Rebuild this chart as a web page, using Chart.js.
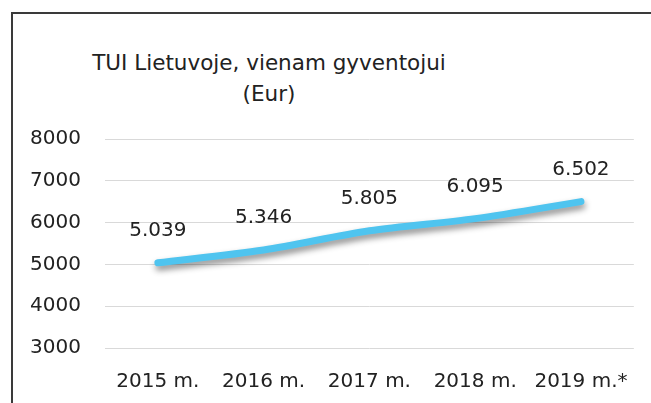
<!DOCTYPE html>
<html>
<head>
<meta charset="utf-8">
<script src="https://cdn.jsdelivr.net/npm/chart.js@4.4.1/dist/chart.umd.min.js"></script>
<style>
  html, body { margin: 0; padding: 0; background: #fff; overflow: hidden; }
  #wrap { position: relative; width: 651px; height: 403px; }
  #frame {
    position: absolute; left: 11px; top: 12px; width: 700px; height: 500px;
    border-left: 2px solid #3a3a3a; border-top: 2px solid #3a3a3a;
  }
  #title {
    position: absolute; left: 0; top: 47px; width: 538px; text-align: center;
    font-family: "DejaVu Sans", sans-serif; font-size: 21.5px; line-height: 31px; color: #222;
  }
  #myChart { position: absolute; left: 0; top: 0; }
</style>
</head>
<body>
<div id="wrap">
  <div id="frame"></div>
  <div id="title">TUI Lietuvoje, vienam gyventojui<br>(Eur)</div>
  <canvas id="myChart" width="651" height="403"></canvas>
</div>
<script>
const years = ['2015 m.', '2016 m.', '2017 m.', '2018 m.', '2019 m.*'];
const tuiPerPerson = [5039, 5346, 5805, 6095, 6502];
const yTicks = [3000, 4000, 5000, 6000, 7000, 8000];

const fontFamily = '"DejaVu Sans", sans-serif';

// value labels above the line, lithuanian style 5.039
const valueLabels = {
    id: 'valueLabels',
    afterDatasetsDraw(chart) {
        const ctx = chart.ctx;
        const meta = chart.getDatasetMeta(0);
        ctx.save();
        ctx.font = '20px ' + fontFamily;
        ctx.fillStyle = '#222';
        ctx.textAlign = 'center';
        ctx.textBaseline = 'middle';
        meta.data.forEach((pt, i) => {
            const v = tuiPerPerson[i].toString();
            const txt = v.slice(0, -3) + '.' + v.slice(-3);
            ctx.fillText(txt, pt.x, pt.y - 32);
        });
        ctx.restore();
    }
};

const lineShadow = {
    id: 'lineShadow',
    beforeDatasetsDraw(chart) {
        const ctx = chart.ctx;
        ctx.save();
        ctx.shadowColor = 'rgba(0,0,0,0.45)';
        ctx.shadowBlur = 6;
        ctx.shadowOffsetY = 4;
        ctx.shadowOffsetX = 1;
    },
    afterDatasetsDraw(chart) {
        chart.ctx.restore();
    }
};

var config = {
    type: 'line',
    data: {
        labels: years,
        datasets: [{
            data: tuiPerPerson,
            borderColor: '#4fc4ef',
            borderWidth: 7,
            borderCapStyle: 'round',
            borderJoinStyle: 'round',
            tension: 0.3,
            pointRadius: 0,
            fill: false
        }]
    },
    options: {
        animation: { duration: 0 },
        responsive: false,
        layout: { padding: { top: 139, left: 24, right: 15, bottom: 0 } },
        plugins: {
            legend: { display: false },
            tooltip: { enabled: false }
        },
        scales: {
            x: {
                offset: true,
                grid: { display: false, drawTicks: false },
                border: { display: false },
                afterFit: axis => { axis.height = 55; },
                ticks: {
                    padding: 22,
                    color: '#222',
                    font: { family: fontFamily, size: 20 },
                    maxRotation: 0,
                    autoSkip: false
                }
            },
            y: {
                min: 3000,
                max: 8000,
                afterBuildTicks: axis => { axis.ticks = yTicks.map(v => ({ value: v })); },
                afterFit: axis => { axis.width = 81; },
                grid: { color: '#d9d9d9', lineWidth: 1, drawTicks: false },
                border: { display: false },
                ticks: {
                    padding: 24,
                    color: '#222',
                    font: { family: fontFamily, size: 20 },
                    callback: v => String(v)
                }
            }
        }
    },
    plugins: [lineShadow, valueLabels]
};

var ctx = document.getElementById('myChart').getContext('2d');
window.myLine = new Chart(ctx, config);
</script>
</body>
</html>
